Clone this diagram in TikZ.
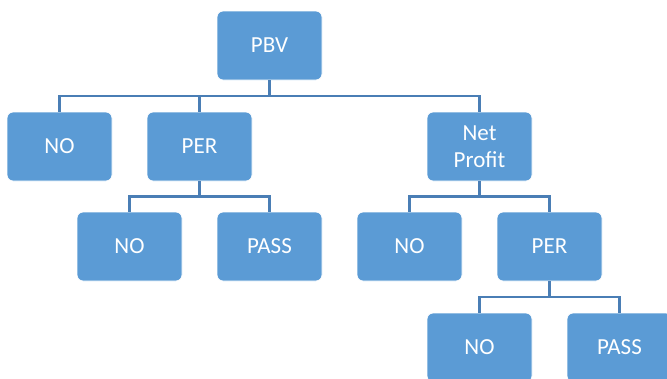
\documentclass[tikz,border=0pt]{standalone}
\usepackage{fontspec}
\setmainfont{Carlito}
\definecolor{boxblue}{HTML}{5B9BD5}
\definecolor{lineblue}{HTML}{4A7EB5}
\begin{document}
\begin{tikzpicture}[x=1pt,y=-1pt,
  box/.style={draw=white,line width=0.8pt,fill=boxblue,rounded corners=6pt,
    minimum width=105pt,minimum height=69pt,inner sep=0pt,text=white,
    font=\fontsize{23}{27}\selectfont,align=center},
  conn/.style={draw=lineblue,line width=2.6pt}]
\useasboundingbox (0,0) rectangle (667,378);
\node[box] (pbv) at (269.5,45.5) {PBV};
\node[box] (no1) at (59.5,146.5) {NO};
\node[box] (per1) at (199.5,146.5) {PER};
\node[box] (np) at (479.5,146.5) {Net\\Profit};
\node[box] (no2) at (129.5,246.5) {NO};
\node[box] (pass1) at (269.5,246.5) {PASS};
\node[box] (no3) at (409.5,246.5) {NO};
\node[box] (per2) at (549.5,246.5) {PER};
\node[box] (no4) at (479.5,347.5) {NO};
\node[box] (pass2) at (619.5,347.5) {PASS};
\foreach \p/\c/\y in {pbv/no1/96, pbv/per1/96, pbv/np/96, per1/no2/196.5, per1/pass1/196.5, np/no3/196.5, np/per2/196.5, per2/no4/297, per2/pass2/297}{
  \draw[conn] (\p.south) -- (\p.south |- 0,\y) -| (\c.north);
}
\end{tikzpicture}
\end{document}
